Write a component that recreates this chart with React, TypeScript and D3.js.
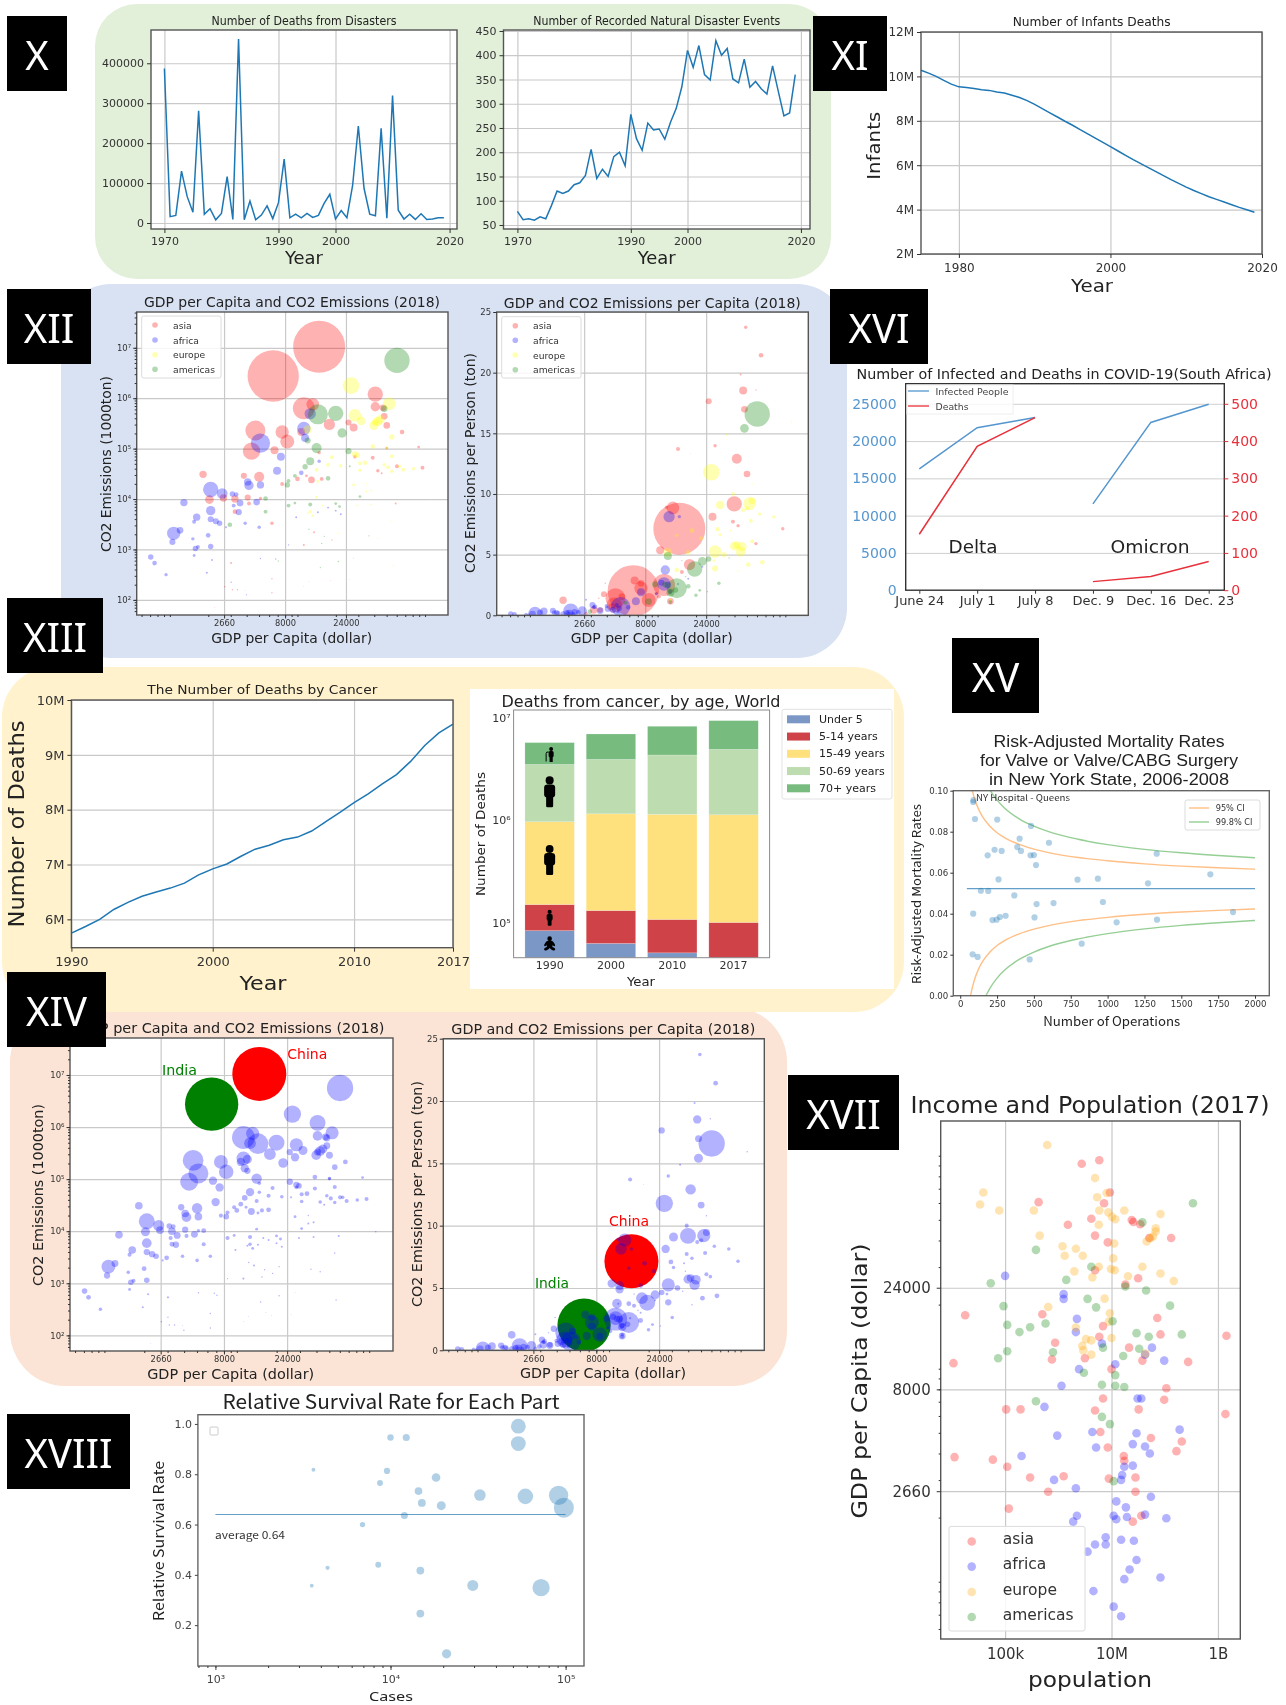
import React, { useEffect, useRef } from 'react';
import * as d3 from 'd3';

// [logGdp, log CO2 (1000 ton), population in millions]
type Row = [number, number, number];

const asiaCo2: Row[] = [
	[4.17,7.02,1399],[3.81,6.44,1363],[4.05,5.80,250],[4.12,5.88,83],[4.61,6.08,122],[4.61,5.83,45],[4.67,5.81,23],[4.68,5.64,23],
	[4.25,5.48,66],[4.40,5.52,19],[4.44,5.42,33],[4.70,5.46,23],[4.82,5.33,11],[3.67,5.36,207],[3.88,5.33,92],[3.92,5.14,101],
	[3.64,4.95,155],[3.82,4.97,33],[4.03,5.33,33],[4.95,5.03,4],[4.17,4.92,6],[4.59,4.82,8],[4.45,4.84,6],[4.70,5.01,4],
	[4.78,4.65,8],[4.98,4.62,8],[4.63,4.56,6],[4.66,4.51,2],[3.26,4.49,28],[3.58,4.46,19],[3.70,4.44,52],[3.88,4.30,8],
	[4.00,4.40,11],[4.07,4.46,4],[4.11,4.38,23],[4.19,4.40,8],[3.31,3.99,39],[3.42,4.02,28],[3.51,4.00,28],[3.61,4.03,19],
	[3.62,3.91,8],[3.71,4.01,6],[3.51,3.75,11],[3.80,3.52,6],[4.05,3.09,2],[4.13,3.34,2],[4.27,3.19,1],[4.77,3.91,2],
	[3.48,2.73,2],[3.43,2.26,1],[3.49,2.20,1],[3.53,2.20,1],[3.59,2.19,0.3],[3.80,2.42,1],[3.80,2.14,1],[3.35,1.85,0.3],
	[4.05,2.27,0.3],[4.26,2.38,0.3],[4.41,2.40,0.3],
];
const africaCo2: Row[] = [
	[4.10,5.69,66],[4.05,5.40,92],[4.06,5.21,33],[3.71,5.11,193],[3.87,4.84,33],[3.84,4.56,33],[4.03,4.52,11],[4.17,4.75,6],
	[3.32,4.19,122],[3.41,4.11,59],[3.61,4.34,28],[3.62,4.27,45],[3.71,4.28,28],[3.49,4.10,15],[3.52,4.09,11],[3.55,3.92,23],
	[3.68,3.94,23],[3.11,3.93,28],[3.32,3.77,45],[3.50,3.87,8],[3.54,3.74,19],[3.32,3.60,19],[3.36,3.56,19],[3.39,3.52,15],
	[3.21,3.64,28],[3.19,3.55,8],[3.08,3.38,23],[3.03,3.32,92],[3.02,3.15,19],[3.30,3.28,11],[3.18,3.21,6],[3.20,3.02,15],
	[3.22,3.05,8],[3.32,3.06,15],[3.19,2.88,4],[2.85,2.85,15],[2.88,2.73,11],[2.97,2.50,6],[3.29,2.54,2],[3.33,2.79,2],
	[3.44,3.44,2],[3.59,3.52,6],[3.70,3.44,6],[3.99,3.64,2],[4.24,3.83,2],[4.16,3.74,2],[4.30,3.77,2],[4.34,3.70,2],
	[3.93,3.09,1],[3.71,2.82,1],[3.83,2.81,1],[3.48,2.35,1],[3.60,2.10,1],[4.44,2.83,0.3],
];
const europeCo2: Row[] = [
	[4.42,6.25,144],[4.72,5.89,83],[4.45,5.66,83],[4.50,5.55,39],[4.60,5.46,45],[4.63,5.54,45],[4.65,5.58,39],[4.61,5.52,23],
	[4.08,5.38,39],[4.74,5.23,15],[4.59,5.04,11],[4.70,5.01,6],[4.45,4.89,19],[4.47,4.87,15],[4.27,4.83,8],[4.74,4.85,8],
	[4.24,4.68,8],[4.34,4.66,6],[4.49,4.71,8],[4.53,4.72,11],[4.49,4.57,6],[4.68,4.68,6],[4.71,4.63,8],[4.74,4.55,6],
	[4.80,4.65,6],[4.83,4.58,8],[4.91,4.60,6],[4.15,4.58,8],[4.16,4.35,4],[4.44,4.28,4],[4.54,4.30,1],[4.54,4.15,2],
	[4.58,4.17,2],[4.15,4.04,4],[4.20,3.87,2],[4.10,3.75,6],[4.08,3.72,2],[4.12,3.67,4],[4.47,3.87,2],[4.58,3.89,2],
	[5.05,3.99,1],[4.74,3.58,1],[4.32,3.32,1],[4.63,3.22,1],[4.75,2.68,1],[4.22,2.44,0.3],
];
const americasCo2: Row[] = [
	[4.78,6.75,332],[4.16,5.68,207],[4.30,5.70,122],[4.68,5.79,23],[4.35,5.31,45],[4.08,5.16,19],[4.15,5.01,52],[4.40,4.95,19],
	[4.10,4.75,33],[4.06,4.64,15],[3.98,4.46,8],[3.93,4.36,8],[3.92,4.28,15],[4.24,4.41,11],[4.41,4.65,2],[4.49,4.05,4],
	[3.75,4.01,11],[3.75,3.75,8],[3.47,3.49,11],[3.93,3.87,8],[3.98,3.92,4],[4.10,3.89,8],[4.30,3.91,4],[4.33,3.85,4],
	[4.09,3.40,1],[4.21,3.26,1],[4.56,3.27,1],[4.19,3.12,1],[3.85,2.77,1],[4.18,2.64,1],[4.32,2.76,1],[4.09,2.36,0.3],
];

// [logGdp, ton per person, population in millions]
const asiaPerPerson: Row[] = [
	[4.17,7.14,1399],[3.81,2.02,1363],[4.05,2.50,250],[4.12,8.85,83],[4.60,9.18,122],[4.70,11.65,23],[4.62,12.91,52],[4.67,18.52,33],
	[4.68,16.98,23],[4.81,21.43,11],[4.69,23.74,6],[4.40,17.64,19],[4.65,19.84,2],[4.77,18.57,1],[4.16,13.71,8],[4.45,13.98,6],
	[4.02,5.36,33],[4.25,4.18,66],[4.43,8.13,33],[4.59,7.72,8],[4.63,7.39,6],[4.98,7.14,6],[4.77,5.91,6],[3.67,1.40,207],
	[3.87,2.23,92],[3.93,1.26,101],[3.66,0.85,120],[3.26,1.24,28],[3.58,1.73,19],[3.82,2.86,33],[4.10,1.15,23],[4.19,3.57,8],
	[3.50,0.44,28],[3.87,2.64,23],[3.72,1.54,23],[3.64,0.71,23],[3.55,0.44,15],[4.07,8.90,6],[4.26,13.30,0.3],[4.01,1.54,8],
	[3.99,1.81,6],[3.86,2.77,2],[3.59,2.64,1],[3.54,1.40,1],[3.44,0.16,6],
];
const africaPerPerson: Row[] = [
	[4.09,8.13,66],[4.06,3.74,45],[4.05,2.58,92],[3.87,1.90,33],[3.83,1.15,33],[3.71,0.71,193],[4.17,8.13,6],[4.10,1.95,11],
	[4.03,2.69,19],[4.08,2.50,23],[3.32,0.33,122],[3.41,0.36,45],[3.04,0.16,92],[3.11,0.33,28],[3.18,0.38,19],[3.21,0.22,15],
	[3.55,0.38,23],[3.49,0.85,19],[3.51,0.71,11],[2.85,0.11,15],[2.88,0.08,11],[2.97,0.08,6],[3.08,0.22,19],[3.02,0.11,23],
	[3.19,0.22,11],[3.22,0.16,11],[3.29,0.22,15],[3.35,0.27,19],[3.38,0.25,11],[3.31,0.16,28],[3.26,0.11,15],[3.50,0.66,8],
	[3.61,0.52,19],[3.65,0.44,19],[3.70,0.58,15],[3.77,0.66,11],[3.68,0.85,8],[3.60,0.77,8],[3.44,1.29,2],[3.99,1.76,4],
	[4.24,3.02,2],[4.35,4.01,2],[4.16,2.58,2],[3.69,0.30,6],[3.31,0.11,11],[3.34,0.11,8],[2.99,0.03,4],
];
const europePerPerson: Row[] = [
	[4.42,11.79,144],[4.72,9.20,83],[4.45,5.25,83],[4.49,9.09,39],[4.65,5.25,52],[4.66,5.66,45],[4.60,5.71,39],[4.62,5.80,28],
	[4.74,9.45,23],[4.67,8.68,8],[4.70,8.82,8],[4.73,7.80,8],[4.80,8.35,6],[4.91,8.13,6],[4.08,5.19,39],[4.24,5.19,11],
	[4.27,6.98,11],[4.34,6.35,8],[4.15,6.59,6],[4.52,5.00,15],[4.45,3.85,19],[4.71,4.18,11],[4.82,4.37,11],[4.47,7.09,11],
	[4.49,6.65,6],[4.59,10.00,8],[4.74,6.10,8],[4.15,3.74,11],[4.44,4.51,4],[4.54,14.89,2],[4.74,10.80,1],[4.57,6.98,2],
	[4.58,6.35,1],[5.05,15.93,1],[4.63,3.65,1],[4.10,1.26,6],[4.07,3.74,2],
];
const americasPerPerson: Row[] = [
	[4.78,16.59,332],[4.15,2.23,207],[4.29,3.82,122],[4.68,15.41,39],[4.08,4.89,33],[4.35,4.45,39],[4.40,4.64,15],[3.93,1.13,23],
	[4.10,1.87,33],[3.98,2.55,19],[4.06,2.53,19],[4.24,2.39,11],[3.75,1.04,8],[3.47,0.30,11],[4.33,2.06,4],[4.30,1.65,6],
	[4.48,2.64,6],[4.10,1.10,8],[4.14,2.09,15],[4.19,4.51,1],[4.56,4.73,1],[4.22,3.19,1],[4.39,1.95,1],
];

// [log population, log GDP per capita] for 2017
const asiaIncome = [
	[6.77,4.979],[6.44,4.962],[6.97,4.827],[5.63,4.782],[6.86,4.777],[6.62,4.704],[7.38,4.698],[7.41,4.689],[7.54,4.678],[6.18,4.676],
	[6.69,4.625],[6.93,4.593],[8.12,4.614],[7.71,4.614],[6.69,4.462],[7.50,4.425],[7.26,4.395],[4.25,4.251],[5.70,4.256],[7.86,4.238],
	[6.84,4.200],[7.92,4.161],[9.16,4.155],[6.77,4.150],[5.94,4.122],[7.33,4.099],[4.03,4.026],[5.88,4.043],[6.50,4.049],[7.58,4.038],
	[8.44,4.032],[7.00,3.998],[8.03,3.908],[7.99,3.854],[6.84,3.860],[5.02,3.809],[5.29,3.809],[6.69,3.804],[7.51,3.809],[9.14,3.787],
	[6.79,3.703],[7.74,3.675],[8.32,3.658],[6.93,3.630],[8.22,3.613],[4.05,3.585],[4.77,3.573],[7.23,3.590],[7.24,3.568],[5.04,3.540],
	[5.47,3.489],[6.10,3.495],[6.95,3.484],[7.45,3.489],[5.81,3.422],[7.45,3.422],[5.07,3.343],[7.40,3.282],[7.56,3.310],
];
const africaIncome = [
	[5.00,4.436],[6.10,4.350],[6.10,4.328],[6.35,4.234],[6.33,4.172],[6.82,4.118],[7.76,4.099],[7.63,4.066],[7.99,4.038],[7.07,4.021],
	[6.39,3.998],[6.06,3.920],[7.49,3.860],[7.56,3.860],[5.74,3.821],[6.64,3.703],[7.47,3.697],[8.28,3.714],[5.98,3.686],[7.40,3.646],
	[6.71,3.630],[7.63,3.635],[7.72,3.602],[5.31,3.590],[7.40,3.545],[7.24,3.540],[7.20,3.501],[7.18,3.478],[5.92,3.478],[6.33,3.439],
	[7.09,3.377],[7.74,3.399],[7.27,3.349],[6.35,3.310],[7.04,3.310],[7.09,3.293],[7.29,3.304],[7.63,3.315],[8.03,3.298],[6.28,3.282],
	[6.89,3.209],[7.18,3.197],[7.42,3.192],[6.69,3.175],[6.89,3.175],[6.55,3.141],[7.47,3.102],[7.34,3.057],[7.24,3.012],[7.92,3.020],
	[6.66,2.956],[7.04,2.883],[7.18,2.838],
];
const europeIncome = [
	[5.79,5.050],[6.69,4.895],[4.59,4.827],[6.91,4.825],[4.53,4.771],[4.89,4.743],[6.73,4.805],[5.54,4.743],[6.77,4.743],[6.94,4.734],
	[7.01,4.713],[7.07,4.702],[7.24,4.743],[7.92,4.726],[6.76,4.676],[5.65,4.625],[7.83,4.659],[7.83,4.644],[7.78,4.621],[7.66,4.597],
	[7.73,4.614],[7.05,4.588],[6.08,4.575],[6.33,4.563],[6.12,4.530],[6.46,4.530],[7.03,4.518],[6.76,4.479],[7.58,4.479],[6.99,4.468],
	[7.06,4.462],[6.30,4.457],[7.92,4.447],[7.31,4.434],[6.64,4.429],[8.17,4.412],[6.87,4.329],[5.81,4.290],[6.97,4.260],[6.95,4.221],
	[6.33,4.193],[6.52,4.139],[6.62,4.133],[7.00,4.144],[6.45,4.107],[6.47,4.086],[6.62,4.066],[7.64,4.071],
];
const americasIncome = [
	[8.53,4.777],[7.58,4.687],[5.58,4.558],[6.62,4.479],[6.15,4.417],[4.73,4.401],[7.26,4.386],[7.65,4.367],[6.55,4.328],[4.97,4.294],
	[6.71,4.288],[8.10,4.296],[5.04,4.206],[7.02,4.223],[5.76,4.212],[5.47,4.195],[5.27,4.172],[7.47,4.167],[7.70,4.150],[8.32,4.161],
	[7.52,4.094],[6.84,4.099],[5.04,4.082],[5.90,4.077],[7.22,4.060],[4.87,4.049],[6.48,3.981],[7.07,3.970],[6.82,3.925],[7.07,3.920],
	[7.24,3.914],[5.58,3.847],[6.82,3.774],[6.97,3.740],[7.04,3.472],
];

const disasterYears = d3.range(1970, 2020);
const disasterDeaths = [
	387000,16000,19000,130000,66000,27000,281000,22000,36000,8000,24000,116000,9000,461000,8000,55000,8000,20000,43000,11000,
	51000,160000,13000,22000,13000,24000,14000,19000,49000,72000,10000,31000,13000,94000,243000,87000,22000,18000,237000,12000,
	319000,32000,10000,22000,9000,23000,9000,10000,13000,13000,
];
const disasterEvents = [
	78,61,63,60,67,63,90,120,115,120,133,137,152,206,146,165,150,191,200,172,
	278,228,204,260,246,248,227,262,290,335,410,375,420,360,349,430,400,414,351,343,
	392,334,346,331,320,378,326,275,281,360,
];

const infantYears = d3.range(1975, 2020);
const infantDeaths = [
	10.28,10.15,10.0,9.82,9.65,9.53,9.50,9.45,9.40,9.37,9.30,9.25,9.15,9.05,8.91,8.74,8.55,8.36,8.17,7.98,7.80,7.60,7.41,
	7.22,7.03,6.84,6.64,6.44,6.25,6.07,5.89,5.71,5.53,5.35,5.18,5.01,4.86,4.72,4.58,4.46,4.34,4.22,4.10,3.99,3.88,
];

const cancerYears = d3.range(1990, 2018);
const cancerDeaths = [
	5.75,5.87,6.0,6.18,6.31,6.42,6.5,6.57,6.66,6.81,6.92,7.01,7.15,7.28,7.35,7.45,7.50,7.61,7.78,7.95,8.13,8.29,8.47,8.64,8.88,9.17,9.40,9.56,
];

const ageYears = ['1990', '2000', '2010', '2017'];
const ageGroups = ['Under 5', '5-14 years', '15-49 years', '50-69 years', '70+ years'];
const ageColors = ['#7a97c6', '#cf4347', '#fee07c', '#bddcb0', '#77bb7e'];
const ageDeaths = [
	[84000, 67000, 819000, 2550000, 2230000],
	[63000, 69000, 1028000, 2780000, 3040000],
	[51000, 57000, 1038000, 3204000, 3950000],
	[45000, 56000, 1034000, 3805000, 4480000],
];
const ageIconValues = [62000, 112000, 410000, 1900000, 4400000];

const mortalityOps = [90,88,100,251,480,403,602,387,233,281,412,186,477,500,514,1333,1697,796,934,1274,260,140,190,367,518,633,968,88,219,247,269,308,504,1061,1335,1851,824,84,118,471];
const mortalityRate = [.0954,.0945,.0862,.0859,.0828,.0766,.0746,.0725,.0712,.0706,.0706,.0685,.0685,.0686,.0637,.0693,.0592,.0566,.0571,.0548,.0567,.0512,.0511,.0489,.0447,.0452,.0457,.0400,.0369,.0371,.0384,.0390,.0382,.0358,.0371,.0408,.0254,.0202,.0189,.0177];
const ci95Ops = [70,80,100,125,150,200,250,300,400,500,600,800,1000,1250,1500,1750,2000];
const ci95Upper = [.1040,.1007,.0955,.0909,.0875,.0828,.0795,.0771,.0738,.0715,.0698,.0674,.0658,.0643,.0632,.0624,.0617];
const ci95Lower = [0,.0033,.0085,.0131,.0165,.0212,.0245,.0269,.0302,.0325,.0342,.0366,.0382,.0397,.0408,.0416,.0423];
const ci998Ops = [174,200,250,300,400,500,600,800,1000,1250,1500,1750,2000];
const ci998Upper = [.1040,.1005,.0954,.0916,.0863,.0827,.0800,.0763,.0737,.0714,.0697,.0684,.0673];
const ci998Lower = [0,.0035,.0086,.0124,.0177,.0213,.0240,.0277,.0303,.0326,.0343,.0356,.0367];

const covidDates = ['June 24', 'July 1', 'July 8', 'Dec. 9', 'Dec. 16', 'Dec. 23'];
const covidInfected = [16270, 21800, 23170, 11580, 22500, 24950];
const covidDeaths = [150, 386, 463, 23, 37, 77];

const survivalCases = [53700,53700,10000,12300,3630,9550,18200,8710,14450,32400,58900,91200,97700,15100,19500,12000,6920,4370,8510,14800,3550,29500,72400,14800,20900];
const survivalRate = [.991,.922,.946,.946,.818,.813,.787,.765,.733,.717,.712,.716,.667,.686,.675,.636,.600,.428,.440,.417,.357,.358,.349,.246,.086];

const continents = ['asia', 'africa', 'europe', 'americas'];
const SANS = '"DejaVu Sans", sans-serif';
const NOTO = '"Noto Sans CJK JP", "Noto Sans", sans-serif';
const GRID = '#c9c9c9';
const SPINE = '#555';
const BLUE = '#1f77b4';

const sup = '⁰¹²³⁴⁵⁶⁷⁸⁹';
const powerLabel = (v: number) => '10' + sup[Math.round(Math.log10(v))];

// every 1..9 x 10^k value between lo and hi, for minor log ticks
function logMinor(lo: number, hi: number) {
	const out: number[] = [];
	for (let k = Math.floor(Math.log10(lo)); k <= Math.ceil(Math.log10(hi)); k++)
		for (let m = 1; m < 10; m++) {
			const v = m * 10 ** k;
			if (v >= lo && v <= hi) out.push(v);
		}
	return out;
}

function Axis({ axis, x = 0, y = 0, size = 10, color = '#333', font = SANS, lineColor, lineWidth = 1 }: any) {
	const ref = useRef<SVGGElement>(null);
	useEffect(() => {
		const g = d3.select(ref.current as SVGGElement);
		g.call(axis);
		g.select('.domain').remove();
		g.selectAll('text').attr('font-size', size).attr('font-family', font).attr('fill', color);
		g.selectAll('line').attr('stroke', lineColor || color).attr('stroke-width', lineWidth);
	});
	return <g ref={ref} transform={`translate(${x},${y})`} />;
}

function Label({ x, y, w, size, rotate, anchor = 'middle', fill = '#222', font = SANS, children }: any) {
	return (
		<text
			x={x} y={y} fontSize={size} fontFamily={font} fill={fill} textAnchor={anchor} dominantBaseline="central"
			textLength={w} lengthAdjust={w ? 'spacingAndGlyphs' : undefined}
			transform={rotate ? `rotate(-90 ${x} ${y})` : undefined}
		>
			{children}
		</text>
	);
}

// white plot area, grid under the children, spines above them
function Frame({ box, xScale, yScale, xGrid = [], yGrid = [], grid = GRID, gridWidth = 1.2, spine = SPINE, children }: any) {
	const { left, right, top, bottom } = box;
	return (
		<g>
			<rect x={left} y={top} width={right - left} height={bottom - top} fill="#fff" />
			{xGrid.length > 0 && (
				<Axis axis={d3.axisBottom(xScale).tickValues(xGrid).tickSize(top - bottom).tickFormat(() => '')} y={bottom} lineColor={grid} lineWidth={gridWidth} />
			)}
			{yGrid.length > 0 && (
				<Axis axis={d3.axisLeft(yScale).tickValues(yGrid).tickSize(left - right).tickFormat(() => '')} x={left} lineColor={grid} lineWidth={gridWidth} />
			)}
			{children}
			<rect x={left} y={top} width={right - left} height={bottom - top} fill="none" stroke={spine} strokeWidth={1.4} />
		</g>
	);
}

function YearLine({ box, years, values, xDomain, yDomain, xTicks, yTicks, yFormat, size = 11, labelGap = 4 }: any) {
	const x = d3.scaleLinear().domain(xDomain).range([box.left, box.right]);
	const y = d3.scaleLinear().domain(yDomain).range([box.bottom, box.top]);
	const line = d3.line<number>().x((_, i) => x(years[i])).y(d => y(d));
	return (
		<g>
			<Frame box={box} xScale={x} yScale={y} xGrid={xTicks} yGrid={yTicks}>
				<path d={line(values) || ''} fill="none" stroke={BLUE} strokeWidth={1.5} />
			</Frame>
			<Axis axis={d3.axisBottom(x).tickValues(xTicks).tickSize(4).tickPadding(labelGap).tickFormat(d3.format('d') as any)} y={box.bottom} size={size} />
			<Axis axis={d3.axisLeft(y).tickValues(yTicks).tickSize(4).tickPadding(3).tickFormat(yFormat)} x={box.left} size={size} />
		</g>
	);
}

const GDP_DOMAIN = [10 ** 2.74, 10 ** 5.18];
const GDP_TICKS = [2660, 8000, 24000];

function Legend({ box, rows, labels, colors, markerX, textX, size, r, textDy = 0 }: any) {
	return (
		<g>
			<rect x={box.left} y={box.top} width={box.right - box.left} height={box.bottom - box.top} rx={2} fill="#fff" fillOpacity={0.85} stroke="#dcdcdc" />
			{labels.map((label: string, i: number) => (
				<g key={label}>
					<circle cx={markerX} cy={rows[i]} r={r} fill={colors[i]} fillOpacity={0.3} />
					<Label x={textX} y={rows[i] + textDy} size={size} anchor="start" fill="#333">{label}</Label>
				</g>
			))}
		</g>
	);
}

function Bubbles({ rows, x, y, radius, color, opacity = 0.3, toValue }: any) {
	return rows.map((d: Row, i: number) => (
		<circle key={i} cx={x(10 ** d[0])} cy={y(toValue(d[1]))} r={radius(d[2])} fill={color} fillOpacity={opacity} />
	));
}

const pow10 = (v: number) => 10 ** v;
const same = (v: number) => v;

function BubbleChart({ id, box, series, perPerson, maxR, title, yLabel, xLabel, notes = [], legend }: any) {
	const x = d3.scaleLog().domain(GDP_DOMAIN).range([box.left, box.right]);
	const logY = [10 ** 1.7, 10 ** 7.71];
	const y: any = perPerson
		? d3.scaleLinear().domain([0, 25]).range([box.bottom, box.top])
		: d3.scaleLog().domain(logY).range([box.bottom, box.top]);
	const radius = d3.scaleSqrt().domain([0, 1400]).range([0, maxR]);
	const yTicks = perPerson ? [0, 5, 10, 15, 20, 25] : [1e2, 1e3, 1e4, 1e5, 1e6, 1e7];
	return (
		<g>
			<clipPath id={id}><rect x={box.left} y={box.top} width={box.right - box.left} height={box.bottom - box.top} /></clipPath>
			<Frame box={box} xScale={x} yScale={y} xGrid={GDP_TICKS} yGrid={yTicks}>
				<g clipPath={`url(#${id})`}>
					{series.map((s: any, i: number) => (
						<Bubbles key={i} rows={s.rows} x={x} y={y} radius={radius} color={s.color} opacity={s.opacity} toValue={perPerson ? same : pow10} />
					))}
				</g>
				{legend}
			</Frame>
			<Axis axis={d3.axisBottom(x).tickValues(logMinor(600, 140000)).tickSize(2).tickFormat(() => '')} y={box.bottom} />
			<Axis axis={d3.axisBottom(x).tickValues(GDP_TICKS).tickSize(3.5).tickPadding(2).tickFormat(d3.format('d') as any)} y={box.bottom} size={8.3} />
			{!perPerson && <Axis axis={d3.axisLeft(y).tickValues(logMinor(60, 5e7)).tickSize(2).tickFormat(() => '')} x={box.left} />}
			<Axis
				axis={d3.axisLeft(y).tickValues(yTicks).tickSize(3.5).tickPadding(2).tickFormat((perPerson ? d3.format('d') : powerLabel) as any)}
				x={box.left} size={8.5}
			/>
			<Label {...title} size={14}>{title.text}</Label>
			<Label {...yLabel} size={14} rotate>{yLabel.text}</Label>
			<Label {...xLabel} size={14}>{xLabel.text}</Label>
			{notes.map((n: any) => <Label key={n.text} {...n} size={13.5} anchor="start">{n.text}</Label>)}
		</g>
	);
}

function IncomeChart() {
	const box = { left: 940.7, right: 1240.3, top: 1121, bottom: 1639 };
	const x = d3.scaleLog().domain([10 ** 3.79, 10 ** 9.42]).range([box.left, box.right]);
	const y = d3.scaleLog().domain([10 ** 2.731, 10 ** 5.163]).range([box.bottom, box.top]);
	const colors = ['red', 'blue', 'orange', 'green'];
	const rows = [asiaIncome, africaIncome, europeIncome, americasIncome];
	const fmtPop = (v: number) => (v >= 1e9 ? '1B' : v >= 1e7 ? '10M' : '100k');
	return (
		<g>
			<Frame box={box} xScale={x} yScale={y} xGrid={[1e5, 1e7, 1e9]} yGrid={GDP_TICKS}>
				{rows.map((set, k) => set.map((d, i) => (
					<circle key={`${k}-${i}`} cx={x(10 ** d[0])} cy={y(10 ** d[1])} r={4.3} fill={colors[k]} fillOpacity={0.3} />
				)))}
				<Legend
					box={{ left: 949, right: 1085, top: 1526.4, bottom: 1631 }} rows={[1541.5, 1566.6, 1592, 1617]} labels={continents}
					colors={colors} markerX={971.7} textX={1002.7} size={15.5} r={4.3} textDy={-2.5}
				/>
			</Frame>
			<Axis axis={d3.axisBottom(x).tickValues([1e5, 1e7, 1e9]).tickSize(0).tickPadding(9).tickFormat(fmtPop as any)} y={box.bottom} size={15} />
			<Axis axis={d3.axisLeft(y).tickValues(logMinor(600, 140000)).tickSize(2).tickFormat(() => '')} x={box.left} />
			<Axis axis={d3.axisLeft(y).tickValues(GDP_TICKS).tickSize(4).tickPadding(6).tickFormat(d3.format('d') as any)} x={box.left} size={15} />
			<Label x={1090} y={1104.7} w={359} size={22.5}>Income and Population (2017)</Label>
			<Label x={1090} y={1679} w={124} size={22}>population</Label>
			<Label x={859} y={1381} w={275} size={22} rotate>GDP per Capita (dollar)</Label>
		</g>
	);
}

function Person({ cx, cy, h, w }: any) {
	// head plus rounded torso and legs
	const head = h * 0.13;
	return (
		<g fill="#000">
			<circle cx={cx} cy={cy - h / 2 + head} r={head} />
			<rect x={cx - w / 2} y={cy - h / 2 + head * 2} width={w} height={h * 0.42} rx={w * 0.3} />
			<rect x={cx - w * 0.32} y={cy} width={w * 0.64} height={h / 2} rx={w * 0.12} />
		</g>
	);
}

function Baby({ cx, cy }: any) {
	return (
		<g fill="#000">
			<circle cx={cx} cy={cy - 5.5} r={2.3} />
			<ellipse cx={cx} cy={cy} rx={3.2} ry={4} />
			<ellipse cx={cx - 3.5} cy={cy - 0.5} rx={1.2} ry={3} transform={`rotate(35 ${cx - 3.5} ${cy - 0.5})`} />
			<ellipse cx={cx + 3.5} cy={cy - 0.5} rx={1.2} ry={3} transform={`rotate(-35 ${cx + 3.5} ${cy - 0.5})`} />
			<ellipse cx={cx - 3} cy={cy + 4.5} rx={2.8} ry={1.5} transform={`rotate(-25 ${cx - 3} ${cy + 4.5})`} />
			<ellipse cx={cx + 3} cy={cy + 4.5} rx={2.8} ry={1.5} transform={`rotate(25 ${cx + 3} ${cy + 4.5})`} />
		</g>
	);
}

function Elder({ cx, cy }: any) {
	return (
		<g>
			<Person cx={cx + 1.5} cy={cy} h={15} w={5} />
			<path d={`M${cx - 3.5},${cy + 7} V${cy - 1} Q${cx - 3.5},${cy - 3} ${cx - 1},${cy - 2.5}`} fill="none" stroke="#000" strokeWidth={1} />
		</g>
	);
}

function AgeBars() {
	const box = { left: 513.6, right: 769.6, top: 710, bottom: 957.7 };
	const x = d3.scaleBand().domain(ageYears).range([box.left + 5.2, box.right - 5.2]).paddingInner(0.194).paddingOuter(0.1);
	const y = d3.scaleLog().domain([10 ** 4.66, 10 ** 7.078]).range([box.bottom, box.top]);
	const rows = ageDeaths.map((d, i) => {
		const row: any = { year: ageYears[i] };
		ageGroups.forEach((g, k) => { row[g] = d[k]; });
		return row;
	});
	const layers = d3.stack().keys(ageGroups)(rows);
	const cx = (x('1990') as number) + x.bandwidth() / 2;
	return (
		<g>
			<rect x={470} y={689} width={424} height={300} fill="#fff" />
			{layers.map((layer, k) => layer.map((d: any, i) => (
				<rect
					key={`${k}-${i}`} x={x(ageYears[i])} width={x.bandwidth()}
					y={y(d[1])} height={Math.max(0, y(Math.max(d[0], 10 ** 4.66)) - y(d[1]))}
					fill={ageColors[k]} stroke="#fff" strokeOpacity={0.3} strokeWidth={0.6}
				/>
			)))}
			<Baby cx={cx} cy={y(ageIconValues[0])} />
			<Person cx={cx} cy={y(ageIconValues[1])} h={16} w={6} />
			<Person cx={cx} cy={y(ageIconValues[2])} h={30} w={11} />
			<Person cx={cx} cy={y(ageIconValues[3])} h={31} w={11} />
			<Elder cx={cx} cy={y(ageIconValues[4])} />
			<rect x={box.left} y={box.top} width={box.right - box.left} height={box.bottom - box.top} fill="none" stroke="#8a8a8a" strokeWidth={1} />
			<Axis axis={d3.axisBottom(x).tickSize(0).tickPadding(4)} y={box.bottom} size={11} />
			<Axis axis={d3.axisLeft(y).tickValues([1e5, 1e6, 1e7]).tickSize(0).tickPadding(3).tickFormat(powerLabel as any)} x={box.left} size={11} />
			<Label x={641} y={701} w={279} size={16}>Deaths from cancer, by age, World</Label>
			<Label x={480.5} y={834} w={124} size={12} rotate>Number of Deaths</Label>
			<Label x={641} y={981.7} w={28} size={12}>Year</Label>
			<rect x={782} y={709.3} width={110} height={89.7} rx={2} fill="#fff" stroke="#e2e2e2" />
			{ageGroups.map((g, i) => {
				const row = d3.scaleLinear().domain([0, 4]).range([719.3, 788.3])(i);
				return (
					<g key={g}>
						<rect x={787} y={row - 4} width={23} height={8} fill={ageColors[i]} />
						<Label x={819} y={row} size={11} anchor="start">{g}</Label>
					</g>
				);
			})}
		</g>
	);
}

function MortalityChart() {
	const box = { left: 953.3, right: 1269.3, top: 790.7, bottom: 995.7 };
	const x = d3.scaleLinear().domain([-47, 2097]).range([box.left, box.right]);
	const y = d3.scaleLinear().domain([0, 0.1]).range([box.bottom, box.top]);
	const curve = (xs: number[], ys: number[]) =>
		d3.line<number>().x((_, i) => x(xs[i])).y(d => y(d)).curve(d3.curveMonotoneX)(ys) || '';
	const titleFont = '"Liberation Sans", sans-serif';
	return (
		<g>
			<clipPath id="mortality-clip"><rect x={box.left} y={box.top} width={box.right - box.left} height={box.bottom - box.top} /></clipPath>
			<Frame box={box} xScale={x} yScale={y} spine="#666">
				<g clipPath="url(#mortality-clip)" fill="none" strokeWidth={1.4}>
					<path d={curve(ci95Ops, ci95Upper)} stroke="#ff7f0e" strokeOpacity={0.5} />
					<path d={curve(ci95Ops, ci95Lower)} stroke="#ff7f0e" strokeOpacity={0.5} />
					<path d={curve(ci998Ops, ci998Upper)} stroke="#2ca02c" strokeOpacity={0.5} />
					<path d={curve(ci998Ops, ci998Lower)} stroke="#2ca02c" strokeOpacity={0.5} />
				</g>
				<line x1={x(45)} x2={x(2000)} y1={y(0.0522)} y2={y(0.0522)} stroke={BLUE} strokeOpacity={0.7} strokeWidth={1.2} />
				{mortalityOps.map((v, i) => <circle key={i} cx={x(v)} cy={y(mortalityRate[i])} r={3.1} fill={BLUE} fillOpacity={0.35} />)}
			</Frame>
			<Axis axis={d3.axisBottom(x).tickValues(d3.range(0, 2001, 250)).tickSize(3).tickPadding(2).tickFormat(d3.format('d') as any)} y={box.bottom} size={8.6} />
			<Axis axis={d3.axisLeft(y).tickValues(d3.range(0, 0.101, 0.02)).tickSize(3).tickPadding(2).tickFormat(d3.format('.2f') as any)} x={box.left} size={8.6} />
			<Label x={1109} y={741.7} w={231} size={16} font={titleFont}>Risk-Adjusted Mortality Rates</Label>
			<Label x={1109} y={760.7} w={258} size={16} font={titleFont}>for Valve or Valve/CABG Surgery</Label>
			<Label x={1109} y={779.5} w={240} size={16} font={titleFont}>in New York State, 2006-2008</Label>
			<Label x={915} y={894} w={180} size={12} font={NOTO} rotate>Risk-Adjusted Mortality Rates</Label>
			<Label x={1111.7} y={1020.7} w={137} size={12.5} font={NOTO}>Number of Operations</Label>
			<Label x={976} y={797} w={94} size={8.5} anchor="start" fill="#333" font={NOTO}>NY Hospital - Queens</Label>
			<rect x={1185} y={800} width={75} height={30} rx={2} fill="#fff" fillOpacity={0.8} stroke="#dcdcdc" />
			<line x1={1189} x2={1209} y1={808} y2={808} stroke="#ff7f0e" strokeOpacity={0.5} strokeWidth={1.4} />
			<line x1={1189} x2={1209} y1={822} y2={822} stroke="#2ca02c" strokeOpacity={0.5} strokeWidth={1.4} />
			<Label x={1215.7} y={808} size={8.2} anchor="start" fill="#333">95% CI</Label>
			<Label x={1215.7} y={822} size={8.2} anchor="start" fill="#333">99.8% CI</Label>
		</g>
	);
}

function CovidChart() {
	const box = { left: 905.7, right: 1224.3, top: 383.7, bottom: 590.2 };
	const x = d3.scalePoint().domain(covidDates).range([919.3, 1208.7]);
	const yLeft = d3.scaleLinear().domain([0, 27695]).range([box.bottom, box.top]);
	const yRight = d3.scaleLinear().domain([0, 553.9]).range([box.bottom, box.top]);
	const bluec = '#5496cf';
	const redc = '#e8303a';
	return (
		<g>
			<Frame box={box} xScale={x} yScale={yLeft} yGrid={[5000, 10000, 15000, 20000, 25000]} grid="#cfcfcf" gridWidth={1} spine="#333">
				{[0, 3].map(start => (
					<g key={start} fill="none" strokeWidth={1.5}>
						<path d={d3.line<number>().x((_, i) => x(covidDates[start + i]) as number).y(d => yLeft(d))(covidInfected.slice(start, start + 3)) || ''} stroke={bluec} />
						<path d={d3.line<number>().x((_, i) => x(covidDates[start + i]) as number).y(d => yRight(d))(covidDeaths.slice(start, start + 3)) || ''} stroke={redc} />
					</g>
				))}
			</Frame>
			<Axis axis={d3.axisBottom(x).tickSize(3.5).tickPadding(2)} y={box.bottom} size={13} color="#333" />
			<Axis axis={d3.axisLeft(yLeft).tickValues([0, 5000, 10000, 15000, 20000, 25000]).tickSize(0).tickPadding(9).tickFormat(d3.format('d') as any)} x={box.left} size={14} color={bluec} />
			<Axis axis={d3.axisRight(yRight).tickValues([0, 100, 200, 300, 400, 500]).tickSize(4).tickPadding(3)} x={box.right} size={14} color={redc} />
			<Label x={1064} y={373.6} w={415} size={14}>Number of Infected and Deaths in COVID-19(South Africa)</Label>
			<Label x={973} y={546} w={49} size={18}>Delta</Label>
			<Label x={1150} y={546} w={79} size={18}>Omicron</Label>
			<rect x={907} y={385} width={106} height={29} fill="#fff" fillOpacity={0.8} stroke="#eee" />
			<line x1={908} x2={929} y1={391} y2={391} stroke={bluec} strokeWidth={1.3} />
			<line x1={908} x2={929} y1={406} y2={406} stroke={redc} strokeWidth={1.3} />
			<Label x={935.5} y={391} w={73} size={9.5} anchor="start" fill="#444">Infected People</Label>
			<Label x={935.5} y={406} w={33} size={9.5} anchor="start" fill="#444">Deaths</Label>
		</g>
	);
}

function SurvivalChart() {
	const box = { left: 197.9, right: 584, top: 1414.7, bottom: 1666 };
	const x = d3.scaleLog().domain([10 ** 2.9, 10 ** 5.105]).range([box.left, box.right]);
	const y = d3.scaleLinear().domain([0.0376, 1.0367]).range([box.bottom, box.top]);
	const radius = d3.scaleSqrt().domain([0, 97700]).range([0, 10]);
	return (
		<g>
			<Frame box={box} xScale={x} yScale={y} spine="#666">
				<line x1={x(1000)} x2={x(100000)} y1={y(0.64)} y2={y(0.64)} stroke={BLUE} strokeOpacity={0.7} strokeWidth={1.2} />
				{survivalCases.map((v, i) => <circle key={i} cx={x(v)} cy={y(survivalRate[i])} r={radius(v)} fill={BLUE} fillOpacity={0.35} />)}
				<Label x={215} y={1534} w={70} size={10} anchor="start" fill="#333" font={NOTO}>average 0.64</Label>
				<rect x={210} y={1427} width={8} height={8} rx={1} fill="#fff" stroke="#ccc" />
			</Frame>
			<Axis axis={d3.axisBottom(x).tickValues(logMinor(800, 1.2e5)).tickSize(2).tickFormat(() => '')} y={box.bottom} />
			<Axis axis={d3.axisBottom(x).tickValues([1e3, 1e4, 1e5]).tickSize(4).tickPadding(5).tickFormat(powerLabel as any)} y={box.bottom} size={11} color="#444" />
			<Axis axis={d3.axisLeft(y).tickValues([0.2, 0.4, 0.6, 0.8, 1.0]).tickSize(3).tickPadding(3).tickFormat(d3.format('.1f') as any)} x={box.left} size={11} color="#444" />
			<Label x={391} y={1400.7} w={337} size={20} font={NOTO}>Relative Survival Rate for Each Part</Label>
			<Label x={391} y={1696} w={44} size={13} font={'"Noto Sans", sans-serif'}>Cases</Label>
			<Label x={158} y={1541} w={160} size={14} font={NOTO} rotate>Relative Survival Rate</Label>
		</g>
	);
}

const panels = [
	{ x: 95, y: 4, w: 736, h: 275, r: 42, fill: '#e2efd9' },
	{ x: 61, y: 284, w: 786, h: 374, r: 50, fill: '#d9e2f3' },
	{ x: 10, y: 1007, w: 777, h: 379, r: 55, fill: '#fbe4d5' },
	{ x: 2, y: 667, w: 902, h: 345, r: 50, fill: '#fff2cc' },
];

const romanBoxes = [
	{ text: 'X', x: 7, y: 16, w: 60, h: 75 },
	{ text: 'XI', x: 813, y: 16, w: 74, h: 75 },
	{ text: 'XII', x: 7, y: 289, w: 84, h: 75 },
	{ text: 'XIII', x: 7, y: 598, w: 96, h: 75 },
	{ text: 'XIV', x: 7, y: 972, w: 99, h: 75 },
	{ text: 'XV', x: 952, y: 638, w: 87, h: 75 },
	{ text: 'XVI', x: 830, y: 289, w: 98, h: 75 },
	{ text: 'XVII', x: 788, y: 1075, w: 111, h: 75 },
	{ text: 'XVIII', x: 7, y: 1414, w: 123, h: 75 },
];

const keyColors = ['red', 'blue', 'yellow', 'green'];
const plainSeries = (sets: Row[][]) => sets.map((rows, i) => ({ rows, color: keyColors[i] }));
// XIV: China and India are solid, the rest of the world a single blue
const highlightSeries = (sets: Row[][]) => [
	{ rows: [sets[0][0]], color: 'red', opacity: 1 },
	{ rows: [sets[0][1]], color: 'green', opacity: 1 },
	{ rows: [...sets[0].slice(2), ...sets[1], ...sets[2], ...sets[3]], color: 'blue' },
];

const co2Sets = [asiaCo2, africaCo2, europeCo2, americasCo2];
const perPersonSets = [asiaPerPerson, africaPerPerson, europePerPerson, americasPerPerson];

export default function App() {
	const millions = (d: number) => `${d}M`;
	return (
		<svg width={1286} height={1705} style={{ position: 'absolute', left: 0, top: 0, background: '#fff' }}>
			<defs>
				<filter id="soft" x="0" y="0" width="100%" height="100%"><feGaussianBlur stdDeviation="0.35" /></filter>
			</defs>
			<g filter="url(#soft)">
				{panels.map(p => <rect key={p.fill} x={p.x} y={p.y} width={p.w} height={p.h} rx={p.r} fill={p.fill} />)}

				{/* X */}
				<YearLine
					box={{ left: 151, right: 457, top: 30, bottom: 229 }} years={disasterYears} values={disasterDeaths}
					xDomain={[1967.65, 2021.3]} yDomain={[-15000, 483300]} xTicks={[1970, 1990, 2000, 2020]}
					yTicks={[0, 100000, 200000, 300000, 400000]} yFormat={d3.format('d')}
				/>
				<Label x={304} y={21} w={185} size={11.5}>Number of Deaths from Disasters</Label>
				<Label x={304} y={257.7} w={38} size={17}>Year</Label>
				<YearLine
					box={{ left: 503.5, right: 810, top: 30, bottom: 229 }} years={disasterYears} values={disasterEvents}
					xDomain={[1967.55, 2021.6]} yDomain={[41.75, 452]} xTicks={[1970, 1990, 2000, 2020]}
					yTicks={d3.range(50, 451, 50)} yFormat={d3.format('d')}
				/>
				<Label x={656.7} y={21} w={247} size={11.5}>Number of Recorded Natural Disaster Events</Label>
				<Label x={656.7} y={257.7} w={38} size={17}>Year</Label>

				{/* XI */}
				<YearLine
					box={{ left: 921, right: 1262, top: 32, bottom: 254 }} years={infantYears} values={infantDeaths}
					xDomain={[1975, 2020]} yDomain={[2, 12]} xTicks={[1980, 2000, 2020]} yTicks={[2, 4, 6, 8, 10, 12]}
					yFormat={millions} size={12} labelGap={5}
				/>
				<Label x={1091.7} y={22} w={158} size={11.5}>Number of Infants Deaths</Label>
				<Label x={1092} y={285.6} w={42} size={17}>Year</Label>
				<Label x={874} y={145.8} w={68} size={18} rotate>Infants</Label>

				{/* XII */}
				<BubbleChart
					id="clip-xii-a" box={{ left: 136.7, right: 448, top: 312, bottom: 615 }} series={plainSeries(co2Sets)} maxR={26}
					title={{ x: 292, y: 302, w: 296, text: 'GDP per Capita and CO2 Emissions (2018)' }}
					yLabel={{ x: 105.7, y: 464, w: 176, text: 'CO2 Emissions (1000ton)' }}
					xLabel={{ x: 291.7, y: 637.7, w: 161, text: 'GDP per Capita (dollar)' }}
					legend={<Legend box={{ left: 141.7, right: 221, top: 316, bottom: 378 }} rows={[325, 340, 354.7, 369.3]} labels={continents} colors={keyColors} markerX={155} textX={173} size={9.2} r={2.8} />}
				/>
				<BubbleChart
					id="clip-xii-b" box={{ left: 496.7, right: 808.3, top: 312, bottom: 615.3 }} series={plainSeries(perPersonSets)} perPerson maxR={26}
					title={{ x: 652.3, y: 302.7, w: 297, text: 'GDP and CO2 Emissions per Capita (2018)' }}
					yLabel={{ x: 470, y: 463, w: 220, text: 'CO2 Emissions per Person (ton)' }}
					xLabel={{ x: 651.7, y: 637.7, w: 162, text: 'GDP per Capita (dollar)' }}
					legend={<Legend box={{ left: 501.7, right: 581, top: 316.7, bottom: 378 }} rows={[325.7, 340.3, 355, 369.7]} labels={continents} colors={keyColors} markerX={515.3} textX={533} size={9.2} r={2.8} />}
				/>

				{/* XVI */}
				<CovidChart />

				{/* XIII */}
				<YearLine
					box={{ left: 71.4, right: 453, top: 700, bottom: 947.7 }} years={cancerYears} values={cancerDeaths}
					xDomain={[1990, 2017]} yDomain={[5.483, 10]} xTicks={[1990, 2000, 2010, 2017]} yTicks={[6, 7, 8, 9, 10]}
					yFormat={millions} size={13} labelGap={5}
				/>
				<Label x={262.3} y={689} w={230} size={13}>The Number of Deaths by Cancer</Label>
				<Label x={263} y={983} w={47} size={20}>Year</Label>
				<Label x={17.4} y={824} w={207} size={21} rotate>Number of Deaths</Label>
				<AgeBars />

				{/* XV */}
				<MortalityChart />

				{/* XIV */}
				<BubbleChart
					id="clip-xiv-a" box={{ left: 70, right: 393, top: 1038, bottom: 1351 }} series={highlightSeries(co2Sets)} maxR={27}
					title={{ x: 231, y: 1028, w: 307, text: 'GDP per Capita and CO2 Emissions (2018)' }}
					yLabel={{ x: 38.3, y: 1195, w: 182, text: 'CO2 Emissions (1000ton)' }}
					xLabel={{ x: 230.7, y: 1374, w: 167, text: 'GDP per Capita (dollar)' }}
					notes={[{ x: 287.3, y: 1054, w: 40, text: 'China', fill: 'red' }, { x: 162, y: 1070, w: 35, text: 'India', fill: 'green' }]}
				/>
				<BubbleChart
					id="clip-xiv-b" box={{ left: 443.3, right: 764.3, top: 1038.7, bottom: 1350.3 }} series={highlightSeries(perPersonSets)} perPerson maxR={27}
					title={{ x: 603.3, y: 1029, w: 304, text: 'GDP and CO2 Emissions per Capita (2018)' }}
					yLabel={{ x: 416.7, y: 1194, w: 226, text: 'CO2 Emissions per Person (ton)' }}
					xLabel={{ x: 603, y: 1373, w: 166, text: 'GDP per Capita (dollar)' }}
					notes={[{ x: 609, y: 1220.7, w: 40, text: 'China', fill: 'red' }, { x: 535, y: 1283, w: 34, text: 'India', fill: 'green' }]}
				/>

				{/* XVII */}
				<IncomeChart />

				{/* XVIII */}
				<SurvivalChart />

				{romanBoxes.map(b => (
					<g key={b.text}>
						<rect x={b.x} y={b.y} width={b.w} height={b.h} fill="#000" />
						<text x={b.x + b.w / 2} y={b.y + b.h / 2 + 1} fill="#fff" fontSize={40} fontFamily='"Noto Sans", sans-serif' textAnchor="middle" dominantBaseline="central">{b.text}</text>
					</g>
				))}
			</g>
		</svg>
	);
}
